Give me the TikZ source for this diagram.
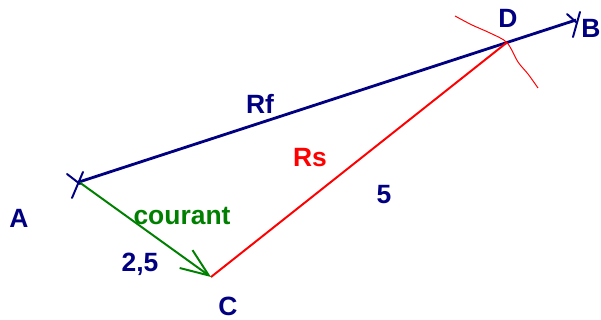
\documentclass[tikz,border=0pt]{standalone}
\usepackage{fontspec}
\setmainfont{Liberation Sans}
\usepackage{xcolor}
\usepackage{tikz}
\usetikzlibrary{positioning,arrows.meta,calc}
\definecolor{ink}{HTML}{000080}
\definecolor{redline}{HTML}{FF0000}
\definecolor{greenline}{HTML}{008000}
\tikzset{
  lbl/.style={font=\fontsize{18.8pt}{22pt}\selectfont\bfseries,inner sep=0pt,anchor=base},
  seg/.style={line width=2pt,draw=ink},
  segred/.style={line width=1.4pt,draw=redline},
  tick/.style={line width=1.4pt,draw=ink,line cap=round},
  flow/.style={-{Straight Barb[length=7mm,width=5.5mm,line width=1.4pt]},line width=1.4pt,draw=greenline},
  arcred/.style={line width=0.7pt,draw=redline},
}
\begin{document}
\begin{tikzpicture}

\useasboundingbox (0,0) rectangle (15.025,8);

% ==== points ====
\coordinate (A) at (1.975,3.45);
\coordinate (B) at (14.4,7.5);
\coordinate (C) at (5.275,1.075);
\coordinate (D) at ($(A)!0.861!(B)$);

% ==== segments ====
\draw[seg] (A) -- (B);
\draw[segred] (C) -- (D);
\draw[flow] (A) -- (C);

% ==== ticks at A and B ====
\draw[tick] ($(A)+(-0.3,0.2)$) -- ($(A)+(0.025,-0.05)$);
\draw[tick] ($(A)+(0.1,0.25)$) -- ($(A)+(-0.175,-0.4)$);
\draw[tick] ($(B)+(-0.225,0.15)$) -- ($(B)+(0.025,-0.075)$);
\draw[tick] ($(B)+(0.1,0.2)$) -- ($(B)+(-0.075,-0.425)$);

% ==== compass arc through D ====
\draw[arcred] plot[smooth] coordinates {(11.375,7.6) (11.8,7.375) (12.25,7.175) (D) (12.95,6.45) (13.2,6.15) (13.45,5.8)};

% ==== labels ====
\node[lbl,text=ink] (lA) at (0.475,2.3) {A};
\node[lbl,text=ink] (lB) at (14.77,7.05) {B};
\node[lbl,text=ink] (lC) at (5.7,0.1) {C};
\node[lbl,text=ink] (lD) at (12.7,7.3) {D};
\node[lbl,text=ink] (Rf) at (6.5,5.15) {Rf};
\node[lbl,text=redline] (Rs) at (7.75,3.825) {Rs};
\node[lbl,text=ink] (len5) at (9.6,2.9) {5};
\node[lbl,text=greenline] (cour) at (4.55,2.375) {courant};
\node[lbl,text=ink] (len25) at (3.5,1.2) {2,5};

\end{tikzpicture}
\end{document}
